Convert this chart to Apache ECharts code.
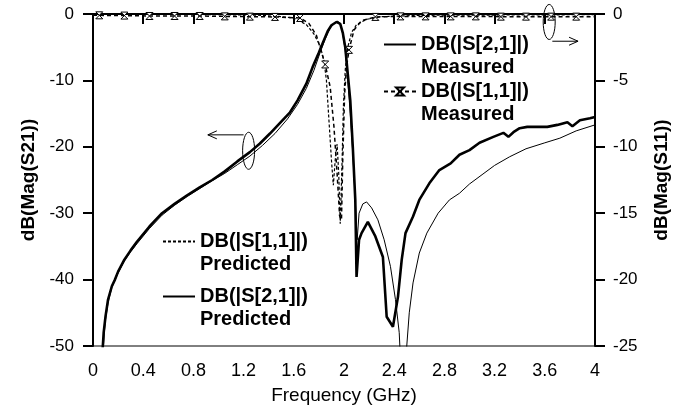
<!DOCTYPE html>
<html>
<head>
<meta charset="utf-8">
<script src="https://cdn.jsdelivr.net/npm/echarts@6/dist/echarts.min.js"></script>
<style>
html,body{margin:0;padding:0;background:#fff;}
#chart{width:695px;height:408px;}
</style>
</head>
<body>
<div id="chart"></div>
<script>
// ---- axis setup ----
const xTicks = [0, 0.4, 0.8, 1.2, 1.6, 2, 2.4, 2.8, 3.2, 3.6, 4];
const s21Ticks = [-50, -40, -30, -20, -10, 0];
const s11Ticks = [-25, -20, -15, -10, -5, 0];

// ---- series names ----
const nameS21Meas = 'DB(|S[2,1]|)\nMeasured';
const nameS11Meas = 'DB(|S[1,1]|)\nMeasured';
const nameS11Pred = 'DB(|S[1,1]|)\nPredicted';
const nameS21Pred = 'DB(|S[2,1]|)\nPredicted';

// ---- Measured S21 (dB), left axis ----
const s21MeasFreq = [0.075,0.085,0.1,0.12,0.15,0.175,0.2,0.25,0.3,0.35,0.45,0.55,0.65,0.75,0.85,0.95,1.05,1.15,1.25,1.33,1.41,1.5,1.57,1.63,1.7,1.75,1.8,1.83,1.87,1.9,1.94,1.97,1.99,2.01,2.03,2.05,2.07,2.09,2.1,2.12,2.14,2.19,2.25,2.31,2.34,2.39,2.43,2.46,2.49,2.55,2.6,2.68,2.76,2.85,2.92,3.0,3.08,3.19,3.27,3.31,3.35,3.4,3.46,3.56,3.62,3.7,3.78,3.82,3.88,3.96,4.0];
const s21MeasDb = [-51,-48,-45.5,-43,-41,-40,-38.8,-37,-35.6,-34.3,-32,-30,-28.6,-27.3,-26.1,-25,-23.7,-22.2,-20.8,-19.5,-18,-16.2,-14.8,-13,-10.5,-8,-5.8,-4.4,-2.6,-1.7,-1.2,-1.5,-2.8,-5,-9,-13,-20,-28,-39.6,-34,-33,-31.3,-33.5,-36.6,-45.6,-47.1,-42.6,-37,-33,-30.5,-28,-25.5,-23.5,-22.5,-21.2,-20.5,-19.4,-18.5,-17.9,-18.5,-17.8,-17.2,-17,-17,-17,-16.7,-16.3,-16.9,-16,-15.7,-15.5];

// ---- Predicted S21 (dB), left axis ----
const s21PredFreq = [0.08,0.09,0.1,0.12,0.15,0.2,0.25,0.3,0.35,0.45,0.55,0.65,0.75,0.85,0.95,1.05,1.15,1.25,1.35,1.45,1.55,1.63,1.7,1.76,1.81,1.85,1.89,1.93,1.95,1.97,1.99,2.01,2.03,2.05,2.07,2.09,2.105,2.12,2.15,2.18,2.22,2.27,2.32,2.37,2.41,2.44,2.445,2.47,2.5,2.52,2.55,2.6,2.66,2.75,2.84,2.92,3.0,3.1,3.2,3.32,3.45,3.6,3.72,3.85,4.0];
const s21PredDb = [-51,-48,-46,-43.5,-41.2,-39,-37.2,-35.8,-34.6,-32.3,-30.3,-28.8,-27.5,-26.3,-25.1,-24,-22.7,-21.4,-19.8,-18,-15.8,-13.6,-11.2,-8.5,-5.8,-3.8,-2.1,-1.3,-1.1,-1.4,-3,-5.5,-10,-15,-21,-28,-34,-30,-28.6,-28.3,-29.2,-31,-34,-38,-43,-48,-50,-60,-50,-45,-40.5,-36,-33,-30,-28,-27,-25.6,-24.2,-22.8,-21.5,-20.3,-19.4,-18.7,-17.6,-16.7];

// ---- Measured S11 (dB), right axis: marked points and unmarked points ----
const s11MeasMarkFreq = [0.05,0.25,0.45,0.65,0.85,1.05,1.25,1.45,1.65,1.85,2.04,2.25,2.45,2.65,2.85,3.05,3.25,3.45,3.65,3.85];
const s11MeasMarkDb = [-0.1,-0.12,-0.15,-0.15,-0.15,-0.18,-0.2,-0.22,-0.3,-3.8,-2.7,-0.22,-0.18,-0.18,-0.18,-0.18,-0.2,-0.2,-0.2,-0.2];
const s11MeasFreq = [0,1.72,1.78,1.89,1.92,1.945,1.965,1.98,1.99,2.005,2.02,2.08,2.14,4.0];
const s11MeasDb = [-0.1,-0.7,-1.6,-5.5,-8.5,-12,-15.2,-15.5,-11,-6,-4,-1.2,-0.5,-0.2];

// ---- Predicted S11 (dB), right axis ----
const s11PredFreq = [0,0.8,1.3,1.5,1.6,1.7,1.76,1.81,1.84,1.86,1.88,1.9,1.915,1.93,1.945,1.958,1.97,1.985,1.995,2.01,2.03,2.06,2.1,2.18,2.3,2.6,4.0];
const s11PredDb = [-0.02,-0.03,-0.08,-0.2,-0.3,-0.8,-1.5,-2.4,-3.5,-5,-8,-11,-12.9,-11,-9.8,-12,-15.8,-11,-7,-4.2,-2.5,-1.4,-0.8,-0.4,-0.2,-0.1,-0.05];

const FONT = '"Liberation Sans", Arial, Helvetica, sans-serif';

function zip(a, b) { return a.map((v, i) => [v, b[i]]); }

const hourglass = 'path://M0,0 L10,0 L0,10 L10,10 Z';
const s11MeasData = zip(s11MeasMarkFreq, s11MeasMarkDb).map(p => ({ value: p }))
  .concat(zip(s11MeasFreq, s11MeasDb).map(p => ({ value: p, symbol: 'none' })))
  .sort((a, b) => a.value[0] - b.value[0]);

const chart = echarts.init(document.getElementById('chart'), null, { renderer: 'canvas' });

const axisCommon = {
  axisLine: { show: true, lineStyle: { color: '#000', width: 2 } },
  axisTick: { show: true, inside: false, length: 10, lineStyle: { color: '#000', width: 2 } },
  splitLine: { show: false },
  nameTextStyle: { color: '#000', fontSize: 19, fontWeight: 'bold', fontFamily: FONT }
};

const legendText = {
  color: '#000', fontSize: 20, fontWeight: 'bold', fontFamily: FONT, lineHeight: 23
};
// a blank first line puts the first text line level with the legend icon
const legendFormatter = name => '\n' + name;
const noSymbol = { opacity: 0 };

chart.setOption({
  animation: false,
  backgroundColor: '#fff',
  grid: {
    left: 93, right: 100, top: 14, bottom: 62, show: true, borderColor: '#000', borderWidth: 1,
    containLabel: false, outerBoundsMode: 'none'
  },
  xAxis: Object.assign({}, axisCommon, {
    type: 'value', min: xTicks[0], max: xTicks[xTicks.length - 1], interval: xTicks[1] - xTicks[0],
    name: 'Frequency (GHz)', nameLocation: 'middle', nameGap: 40,
    nameTextStyle: { color: '#000', fontSize: 19, fontFamily: FONT },
    axisLabel: { color: '#000', fontSize: 18, fontFamily: FONT, margin: 16 }
  }),
  yAxis: [
    Object.assign({}, axisCommon, {
      type: 'value', min: s21Ticks[0], max: s21Ticks[s21Ticks.length - 1], interval: s21Ticks[1] - s21Ticks[0],
      position: 'left', name: 'dB(Mag(S21))', nameLocation: 'middle', nameGap: 55,
      axisLabel: { color: '#000', fontSize: 17, fontFamily: FONT, margin: 19 }
    }),
    Object.assign({}, axisCommon, {
      type: 'value', min: s11Ticks[0], max: s11Ticks[s11Ticks.length - 1], interval: s11Ticks[1] - s11Ticks[0],
      position: 'right', name: 'dB(Mag(S11))', nameLocation: 'middle', nameGap: 57, nameRotate: 90,
      axisLabel: { color: '#000', fontSize: 17, fontFamily: FONT, margin: 18 }
    })
  ],
  legend: [
    {
      data: [{ name: nameS21Meas, itemStyle: noSymbol }, { name: nameS11Meas }],
      orient: 'vertical', left: 383, top: 10,
      itemGap: -22, itemWidth: 32, itemHeight: 10, padding: 0, selectedMode: false,
      formatter: legendFormatter, textStyle: legendText
    },
    {
      data: [{ name: nameS11Pred, itemStyle: noSymbol }, { name: nameS21Pred, itemStyle: noSymbol }],
      orient: 'vertical', left: 162, top: 207,
      itemGap: -14, itemWidth: 32, itemHeight: 10, padding: 0, selectedMode: false,
      formatter: legendFormatter, textStyle: legendText
    }
  ],
  series: [
    {
      name: nameS21Meas, type: 'line', yAxisIndex: 0, symbol: 'none', clip: true,
      data: zip(s21MeasFreq, s21MeasDb),
      lineStyle: { color: '#000', width: 2.6 }, itemStyle: { color: '#000' }, z: 4
    },
    {
      name: nameS21Pred, type: 'line', yAxisIndex: 0, symbol: 'none', clip: true,
      data: zip(s21PredFreq, s21PredDb),
      lineStyle: { color: '#000', width: 1 }, itemStyle: { color: '#000' }, z: 3
    },
    {
      name: nameS11Meas, type: 'line', yAxisIndex: 1, symbol: hourglass, symbolSize: [7, 7],
      showSymbol: true, clip: true, data: s11MeasData,
      lineStyle: { color: '#000', width: 1.5, type: [4, 3] },
      itemStyle: { color: '#fff', borderColor: '#000', borderWidth: 1 }, z: 5
    },
    {
      name: nameS11Pred, type: 'line', yAxisIndex: 1, symbol: 'none', clip: true,
      data: zip(s11PredFreq, s11PredDb),
      lineStyle: { color: '#000', width: 1.2, type: [3, 2] }, itemStyle: { color: '#000' }, z: 5
    }
  ]
});

// ---- annotations (ellipses + arrows) positioned from data coordinates ----
function toPx(axisY, x, y) { return chart.convertToPixel({ xAxisIndex: 0, yAxisIndex: axisY }, [x, y]); }
const eL = toPx(0, 1.24, -20.6);
const aL1 = toPx(0, 1.2, -18.2), aL2 = toPx(0, 0.915, -18.2);
const eR = toPx(1, 3.635, -0.6);
const aR1 = toPx(1, 3.66, -2.05), aR2 = toPx(1, 3.865, -2.05);
const st = { stroke: '#000', lineWidth: 1, fill: 'none' };
chart.setOption({
  graphic: [
    { type: 'ellipse', shape: { cx: eL[0], cy: eL[1], rx: 6, ry: 18.5 }, style: st, z: 10 },
    { type: 'polyline', shape: { points: [aL1, aL2] }, style: st, z: 10 },
    { type: 'polyline', shape: { points: [[aL2[0] + 9, aL2[1] - 4], aL2, [aL2[0] + 9, aL2[1] + 4]] }, style: st, z: 10 },
    { type: 'ellipse', shape: { cx: eR[0], cy: eR[1], rx: 6, ry: 17.5 }, style: st, z: 10 },
    { type: 'polyline', shape: { points: [aR1, aR2] }, style: st, z: 10 },
    { type: 'polyline', shape: { points: [[aR2[0] - 9, aR2[1] - 4], aR2, [aR2[0] - 9, aR2[1] + 4]] }, style: st, z: 10 }
  ]
});
</script>
</body>
</html>
